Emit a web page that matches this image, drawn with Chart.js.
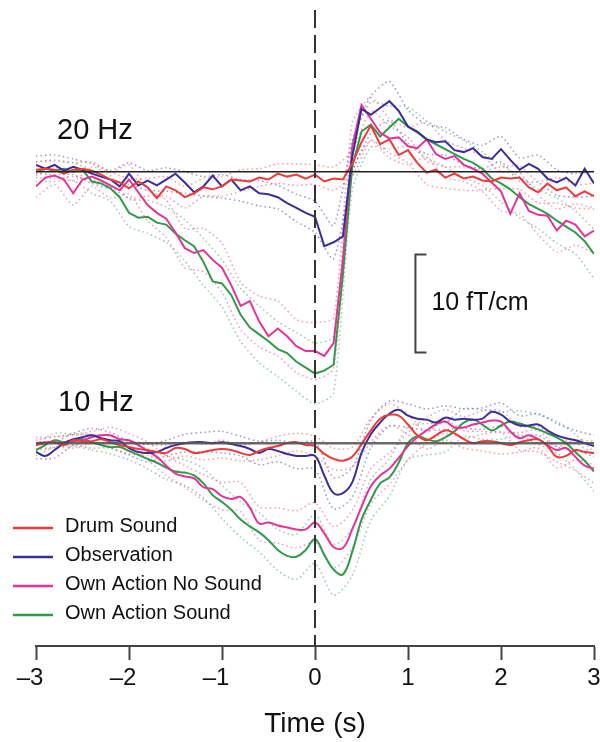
<!DOCTYPE html>
<html>
<head>
<meta charset="utf-8">
<script src="https://cdn.jsdelivr.net/npm/chart.js@4.4.1/dist/chart.umd.min.js"></script>
<style>
  html, body { margin: 0; padding: 0; background: #fff; }
  #chart { display: block; }
</style>
</head>
<body>
<canvas id="chart" width="600" height="742"></canvas>
<script>
// time axis (s), 0.1 s steps
const times = [
  -3.0, -2.9, -2.8, -2.7, -2.6, -2.5, -2.4, -2.3, -2.2, -2.1,
  -2.0, -1.9, -1.8, -1.7, -1.6, -1.5, -1.4, -1.3, -1.2, -1.1,
  -1.0, -0.9, -0.8, -0.7, -0.6, -0.5, -0.4, -0.3, -0.2, -0.1,
  0.0, 0.1, 0.2, 0.3, 0.4, 0.5, 0.6, 0.7, 0.8, 0.9,
  1.0, 1.1, 1.2, 1.3, 1.4, 1.5, 1.6, 1.7, 1.8, 1.9,
  2.0, 2.1, 2.2, 2.3, 2.4, 2.5, 2.6, 2.7, 2.8, 2.9,
  3.0
];
const tickLabels = ['\u20133', '\u20132', '\u20131', '0', '1', '2', '3'];
const conditions = ['Drum Sound', 'Observation', 'Own Action No Sound', 'Own Action Sound'];

// 20 Hz mean traces (fT/cm)
const drum20 = [
  0.2, 0.3, 0.2, -0.2, 0.2, 0.3, 0.1, -0.3, -0.8, -1.1,
  -1.7, -1.0, -1.6, -2.7, -1.5, -1.9, -2.6, -2.2, -1.6, -1.8,
  -1.5, -0.8, -0.9, -1.0, -0.6, -0.8, -0.2, -0.5, -0.3, -0.7,
  -0.3, -1.0, -0.7, -0.8, 0.8, 3.0, 4.7, 2.8, 3.3, 1.7,
  2.2, 0.9, -0.1, 0.2, -0.6, -0.2, -0.7, -0.5, -0.9, -1.0,
  -0.6, -0.7, -0.6, -1.6, -2.1, -1.2, -1.9, -1.6, -2.5, -2.0,
  -2.5
];
const obs20 = [
  0.7, 0.3, 0.7, 0.1, 0.5, 0.2, -0.2, -0.5, -0.8, -1.5,
  -0.2, -1.4, -0.9, -1.4, -0.8, -0.2, -1.1, -2.1, -1.5, -0.4,
  -1.5, -0.8, -1.9, -1.5, -2.2, -2.3, -2.6, -3.2, -3.7, -4.2,
  -4.6, -7.6, -7.2, -6.6, 1.5, 6.4, 5.8, 6.5, 7.2, 6.2,
  4.6, 4.1, 3.3, 3.0, 3.1, 2.2, 2.0, 2.4, 1.5, 1.3,
  2.3, 1.2, 0.2, 0.8, 0.3, -0.7, -1.1, -0.6, -1.4, 0.3,
  -1.2
];
const ownNoSound20 = [
  -1.5, -0.6, -0.4, -0.8, -2.2, -0.8, -0.5, -0.9, -1.4, -1.9,
  -0.8, -2.1, -3.4, -4.2, -4.8, -6.2, -7.8, -8.3, -8.0, -9.0,
  -9.8, -11.6, -13.7, -13.2, -15.3, -16.8, -16.0, -16.8, -17.8, -18.3,
  -18.3, -18.8, -17.5, -9.0, 2.5, 6.8, 5.4, 4.0, 3.4, 3.5,
  2.6, 2.4, 3.3, 1.8, 1.3, 1.6, 0.7, 0.3, -0.2, -1.1,
  -2.0, -4.3, -2.2, -4.0, -4.4, -4.5, -6.0, -5.0, -5.4, -6.6,
  -6.0
];
const ownSound20 = [
  0.0, 0.3, 0.1, 0.3, 0.0, 0.2, -1.0, -1.2, -1.7, -2.6,
  -4.2, -4.7, -4.6, -5.2, -5.4, -6.3, -7.0, -7.6, -9.2, -11.2,
  -11.4, -12.6, -14.6, -15.9, -16.6, -17.3, -18.1, -18.5, -19.4, -20.0,
  -20.6, -20.3, -19.7, -10.5, 0.5, 4.1, 4.8, 3.6, 4.5, 5.4,
  4.6, 4.0, 3.3, 2.8, 2.3, 1.8, 1.3, 0.9, 0.3, -0.7,
  -1.2, -1.8, -2.6, -3.3, -3.8, -4.3, -5.0, -5.6, -6.2, -7.1,
  -8.4
];

// 10 Hz mean traces (fT/cm)
const drum10 = [
  -0.2, 0.0, 0.1, -0.2, 0.3, 0.2, 0.2, 0.4, 0.1, -0.2,
  -0.4, -0.6, -0.7, -0.9, -1.0, -0.5, -0.6, -1.0, -0.9, -0.7,
  -0.6, -0.7, -1.0, -1.2, -0.8, -0.5, -0.3, 0.0, 0.1, -0.2,
  -0.3, -1.1, -1.6, -1.8, -1.4, -0.1, 1.3, 2.5, 2.9, 2.8,
  1.9, 0.8, 0.3, 0.8, 1.3, 1.0, 0.4, 0.0, 0.2, 0.2,
  0.0, -0.2, 0.1, 0.3, 0.4, -0.3, -1.4, -1.3, -0.7, -0.9,
  -1.0
];
const obs10 = [
  -0.9, -1.3, -0.7, 0.0, 0.4, 0.6, 0.8, 0.5, 0.3, 0.2,
  -0.5, -0.9, -1.0, -0.9, -0.5, -0.2, 0.0, 0.1, 0.1, 0.0,
  0.1, -0.1, -0.3, -0.6, -1.0, -0.6, -0.8, -1.1, -1.3, -1.3,
  -1.3, -3.3, -5.1, -5.1, -4.0, -1.0, 0.9, 2.1, 3.0, 3.4,
  2.8, 2.5, 2.4, 2.1, 2.6, 2.4, 2.5, 2.4, 2.5, 3.2,
  2.9, 2.2, 1.8, 1.8, 1.9, 1.3, 0.8, 0.5, 0.3, 0.0,
  -0.3
];
const ownNoSound10 = [
  0.0, 0.1, 0.1, 0.0, 0.2, 0.3, 0.6, 0.8, 0.8, 0.4,
  0.3, -0.2, -0.8, -1.4, -2.3, -3.1, -3.4, -3.6, -4.5, -4.7,
  -5.4, -5.7, -5.5, -6.6, -8.2, -8.1, -8.4, -8.6, -8.8, -8.8,
  -8.1, -9.2, -10.6, -10.7, -8.8, -6.5, -4.4, -3.3, -2.6, -1.5,
  -0.3, 0.6, 1.3, 1.9, 2.2, 1.6, 1.6, 1.9, 2.1, 2.3,
  2.2, 1.2, 0.5, 0.8, 0.4, -0.2, -0.7, -0.5, -1.4, -2.3,
  -2.6
];
const ownSound10 = [
  -0.7, -0.2, 0.3, 0.1, 0.3, 0.4, 0.1, -0.2, -0.4, -0.4,
  -0.8, -1.2, -1.6, -2.0, -2.5, -2.9, -3.0, -3.3, -4.1, -5.3,
  -6.0, -6.8, -7.8, -8.5, -9.1, -9.9, -10.9, -11.5, -11.6, -10.9,
  -9.8, -11.4, -12.9, -13.4, -11.1, -7.8, -5.8, -4.1, -3.5, -2.0,
  0.0, 0.7, 0.4, 0.2, 0.6, 1.2, 2.1, 2.4, 1.9, 1.3,
  1.8, 2.2, 2.0, 1.7, 1.4, 1.0, 0.6, 0.0, -0.9, -1.8,
  -2.9
];

// standard error, every 0.2 s (dotted bands)
const drum20Sem = [0.8, 0.9, 0.7, 0.9, 0.8, 1.0, 0.9, 1.0, 1.1, 0.9, 1.0, 1.1, 0.9, 1.0, 1.1, 1.0, 1.2, 1.3, 1.5, 1.4, 1.3, 1.2, 1.1, 1.2, 1.0, 1.1, 1.2, 1.1, 1.3, 1.2, 1.3];
const obs20Sem = [0.9, 1.0, 0.8, 1.0, 0.9, 1.1, 1.0, 1.2, 1.1, 1.0, 1.2, 1.1, 1.3, 1.2, 1.4, 1.6, 1.7, 1.6, 1.9, 2.0, 1.7, 1.5, 1.4, 1.3, 1.2, 1.3, 1.2, 1.4, 1.3, 1.2, 1.3];
const ownNoSound20Sem = [1.1, 0.9, 1.2, 1.0, 1.3, 1.5, 1.6, 1.9, 2.0, 2.2, 2.5, 2.4, 2.6, 2.8, 2.7, 2.9, 2.6, 2.5, 2.2, 2.0, 1.9, 1.8, 1.9, 1.7, 1.8, 2.0, 2.1, 2.0, 2.2, 2.1, 2.3];
const ownSound20Sem = [1.0, 1.1, 0.9, 1.2, 1.3, 1.4, 1.7, 1.8, 2.1, 2.4, 2.4, 2.7, 2.9, 2.8, 3.0, 3.1, 2.9, 2.4, 2.3, 2.2, 2.0, 1.9, 1.8, 1.9, 1.7, 1.9, 2.1, 2.0, 2.3, 2.2, 2.5];
const drum10Sem = [0.5, 0.6, 0.5, 0.7, 0.6, 0.7, 0.6, 0.8, 0.7, 0.8, 0.9, 0.8, 0.9, 1.0, 0.9, 1.0, 1.1, 1.0, 1.2, 1.1, 1.0, 0.9, 1.0, 0.9, 1.0, 1.1, 1.0, 0.9, 1.1, 1.0, 1.2];
const obs10Sem = [0.7, 0.8, 0.6, 0.7, 0.8, 0.7, 0.9, 0.8, 0.9, 1.0, 1.1, 1.0, 1.2, 1.1, 1.3, 1.4, 1.6, 1.5, 1.4, 1.3, 1.2, 1.1, 1.2, 1.0, 1.1, 1.2, 1.0, 1.1, 1.2, 1.0, 1.1];
const ownNoSound10Sem = [0.6, 0.5, 0.7, 0.6, 0.8, 0.7, 0.9, 1.0, 1.1, 1.3, 1.4, 1.5, 1.7, 1.8, 1.9, 2.0, 2.1, 1.9, 1.8, 1.6, 1.4, 1.3, 1.2, 1.1, 1.2, 1.1, 1.2, 1.3, 1.2, 1.4, 1.5];
const ownSound10Sem = [0.6, 0.7, 0.6, 0.8, 0.7, 0.9, 1.0, 1.2, 1.3, 1.5, 1.7, 1.8, 2.0, 2.1, 2.3, 2.5, 2.6, 2.4, 2.1, 1.9, 1.7, 1.6, 1.5, 1.4, 1.5, 1.4, 1.3, 1.5, 1.6, 1.8, 2.0];

// scale bar: 10 fT/cm
const scaleBarSize = 10;

document.addEventListener('DOMContentLoaded', function() {
  const FONT = '"Liberation Sans", Arial, Helvetica, sans-serif';
  const colors = ['#ee3a3a', '#3a2e98', '#e5339a', '#2f9a48'];
  const bandColors = ['rgba(238,58,58,0.5)', 'rgba(58,46,152,0.5)', 'rgba(229,51,154,0.5)', 'rgba(47,154,72,0.5)'];

  const traces20 = [drum20, obs20, ownNoSound20, ownSound20];
  const traces10 = [drum10, obs10, ownNoSound10, ownSound10];
  const sems20 = [drum20Sem, obs20Sem, ownNoSound20Sem, ownSound20Sem];
  const sems10 = [drum10Sem, obs10Sem, ownNoSound10Sem, ownSound10Sem];

  const toPoints = (vals) => vals.map((v, i) => ({ x: times[i], y: v }));
  const bandPoints = (vals, sem, sign) =>
    sem.map((s, i) => ({ x: times[i * 2], y: vals[i * 2] + sign * s }));

  const datasets = [];

  // reference lines drawn on top
  datasets.push({
    data: [{ x: 0, y: 16.5 }, { x: 0, y: -48.4 }],
    yAxisID: 'y', borderColor: '#333', borderWidth: 2, borderDash: [18, 7], order: 0
  });
  datasets.push({
    data: [{ x: -3, y: 0 }, { x: 3, y: 0 }],
    yAxisID: 'y', borderColor: '#222', borderWidth: 1.5, order: 0
  });
  datasets.push({
    data: [{ x: -3, y: 0 }, { x: 3, y: 0 }],
    yAxisID: 'y10', borderColor: 'rgba(80,80,80,0.85)', borderWidth: 2.5, order: 0
  });

  const meanOrder = [1, 2, 3, 4];
  conditions.forEach((name, k) => {
    datasets.push({
      label: name, data: toPoints(traces20[k]), yAxisID: 'y',
      borderColor: colors[k], borderWidth: 2, tension: 0, order: meanOrder[k]
    });
    datasets.push({
      label: name, data: toPoints(traces10[k]), yAxisID: 'y10',
      borderColor: colors[k], borderWidth: 2, tension: 0.4, order: meanOrder[k]
    });
    [1, -1].forEach(sign => {
      datasets.push({
        data: bandPoints(traces20[k], sems20[k], sign), yAxisID: 'y',
        borderColor: bandColors[k], borderWidth: 1.5, borderDash: [1.5, 3], tension: 0.2, order: 8
      });
      datasets.push({
        data: bandPoints(traces10[k], sems10[k], sign), yAxisID: 'y10',
        borderColor: bandColors[k], borderWidth: 1.5, borderDash: [1.5, 3], tension: 0.3, order: 8
      });
    });
  });

  const overlay = {
    id: 'overlay',
    afterDraw(chart) {
      const ctx = chart.ctx;
      const xs = chart.scales.x;
      const ys = chart.scales.y;
      ctx.save();
      ctx.fillStyle = '#111';
      ctx.textBaseline = 'middle';
      ctx.font = '29px ' + FONT;
      ctx.fillText('20 Hz', 57, 131);
      ctx.fillText('10 Hz', 58, 403);

      // scale bar
      const bx = xs.getPixelForValue(1.08);
      const top = ys.getPixelForValue(-8.45);
      const bottom = ys.getPixelForValue(-8.45 - scaleBarSize);
      ctx.strokeStyle = '#444';
      ctx.lineWidth = 2;
      ctx.beginPath();
      ctx.moveTo(bx + 11, top);
      ctx.lineTo(bx, top);
      ctx.lineTo(bx, bottom);
      ctx.lineTo(bx + 11, bottom);
      ctx.stroke();
      ctx.font = '25px ' + FONT;
      ctx.fillText('10 fT/cm', bx + 16, (top + bottom) / 2);

      // legend
      ctx.font = '20px ' + FONT;
      const rows = [528, 557, 586, 615];
      conditions.forEach((name, k) => {
        ctx.strokeStyle = colors[k];
        ctx.lineWidth = 2.5;
        ctx.beginPath();
        ctx.moveTo(13, rows[k]);
        ctx.lineTo(53, rows[k]);
        ctx.stroke();
        ctx.fillText(name, 65, rows[k] - 2);
      });
      ctx.restore();
    }
  };

  new Chart(document.getElementById('chart'), {
    type: 'line',
    data: { datasets },
    options: {
      responsive: false,
      animation: false,
      layout: { padding: { left: 36, right: 6, top: 10, bottom: 0 } },
      elements: { point: { radius: 0 } },
      plugins: { legend: { display: false }, tooltip: { enabled: false } },
      scales: {
        x: {
          type: 'linear', min: -3, max: 3,
          afterFit: (scale) => {
            scale.height = 96;
            scale.paddingLeft = 0;
            scale.paddingRight = 0;
          },
          border: { display: true, color: '#444', width: 2 },
          grid: { display: true, drawOnChartArea: false, drawTicks: true, tickLength: 14, tickWidth: 2, tickColor: '#444' },
          ticks: {
            stepSize: 1, color: '#111', padding: 4, maxRotation: 0,
            font: { family: FONT, size: 24 },
            callback: (v) => {
              const label = tickLabels[Math.round(v) + 3];
              return v < 0 ? label + '\u2002' : label;
            }
          },
          title: {
            display: true, text: 'Time (s)', color: '#111',
            font: { family: FONT, size: 28 }, padding: { top: 0, bottom: 1 }
          }
        },
        y: { display: false, min: -48.4, max: 16.5 },
        y10: { display: false, min: -20.7, max: 44.2 }
      }
    },
    plugins: [overlay]
  });
});
</script>
</body>
</html>
